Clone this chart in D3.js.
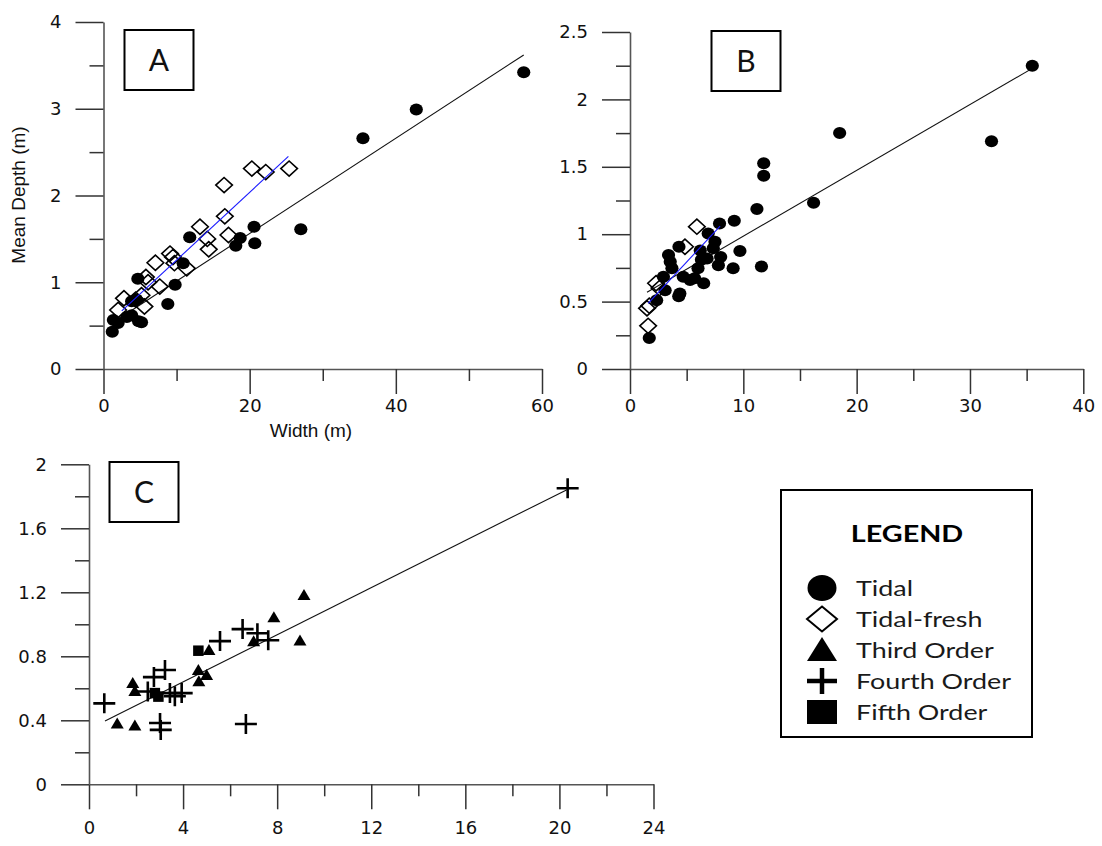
<!DOCTYPE html>
<html>
<head>
<meta charset="utf-8">
<script src="https://cdn.jsdelivr.net/npm/d3@7"></script>
<style>
  body { margin: 0; background: #fff; }
  svg { display: block; }
</style>
</head>
<body>
<script>
// panel A : width vs mean depth
const tidalA = [[1.2, 0.43], [1.35, 0.565], [2.0, 0.53], [3.2, 0.6], [3.85, 0.62], [3.85, 0.78], [4.5, 0.8], [4.8, 0.55],
  [5.2, 0.54], [4.7, 1.04], [8.8, 0.75], [9.8, 0.97], [10.9, 1.22], [11.8, 1.52], [18.1, 1.42], [18.7, 1.51],
  [20.6, 1.64], [20.7, 1.45], [27.0, 1.61], [35.5, 2.66], [42.8, 2.99], [57.5, 3.42]];
const freshA = [[2.0, 0.68], [2.8, 0.815], [4.4, 0.8], [5.2, 0.85], [5.6, 0.72], [5.8, 1.06], [6.1, 1.0], [7.1, 1.225],
  [7.7, 0.95], [9.1, 1.33], [9.5, 1.29], [9.7, 1.22], [11.4, 1.16], [13.2, 1.64], [14.2, 1.5], [14.4, 1.38],
  [16.5, 2.12], [16.6, 1.76], [17.1, 1.545], [20.3, 2.31], [22.2, 2.27], [25.4, 2.31]];
const fitA = [[1.2, 0.53], [57.5, 3.62]];
const fitFreshA = [[2.5, 0.67], [25.3, 2.45]];
const xMajorA = [0, 20, 40, 60];
const xMinorA = [10, 30, 50];
const yMajorA = [0, 1, 2, 3, 4];
const yMinorA = [0.5, 1.5, 2.5, 3.5];

// panel B
const tidalB = [[1.7, 0.23], [2.35, 0.51], [3.1, 0.585], [2.95, 0.685], [3.4, 0.845], [3.55, 0.796], [3.7, 0.747],
  [4.32, 0.907], [4.4, 0.56], [4.3, 0.54], [4.7, 0.685], [5.3, 0.66], [5.7, 0.673], [6.5, 0.636], [6.0, 0.747],
  [6.3, 0.81], [6.2, 0.88], [6.8, 0.82], [6.9, 1.006], [7.5, 0.944], [7.35, 0.895], [7.9, 1.08], [7.8, 0.77],
  [8.0, 0.83], [9.1, 0.747], [9.2, 1.1], [9.7, 0.875], [11.2, 1.187], [11.6, 0.76], [11.8, 1.526], [11.8, 1.434],
  [16.2, 1.234], [18.5, 1.75], [31.9, 1.69], [35.5, 2.25]];
const freshB = [[1.6, 0.32], [1.5, 0.45], [1.7, 0.47], [2.3, 0.636], [2.6, 0.6], [4.85, 0.907], [5.9, 1.056]];
const fitB = [[1.5, 0.57], [35.5, 2.23]];
const fitFreshB = [[1.6, 0.487], [7.95, 1.06]];
const xMajorB = [0, 10, 20, 30, 40];
const xMinorB = [5, 15, 25, 35];
const yMajorB = [0, 0.5, 1, 1.5, 2, 2.5];
const yMinorB = [0.25, 0.75, 1.25, 1.75, 2.25];

// panel C : stream orders
const thirdC = [[9.14, 1.18], [7.86, 1.04], [8.97, 0.895], [7.0, 0.89], [5.1, 0.835], [4.65, 0.71], [5.0, 0.68],
  [4.67, 0.64], [1.86, 0.63], [1.95, 0.58], [1.2, 0.377], [1.95, 0.364]];
const fourthC = [[20.35, 1.85], [5.57, 0.895], [6.53, 0.97], [7.16, 0.944], [7.62, 0.9], [0.65, 0.506], [3.23, 0.714],
  [2.76, 0.67], [2.5, 0.58], [3.44, 0.57], [3.65, 0.55], [3.94, 0.57], [3.02, 0.383], [3.05, 0.34], [6.67, 0.377]];
const fifthC = [[4.65, 0.835], [2.95, 0.548], [2.8, 0.57]];
const fitC = [[0.68, 0.395], [20.3, 1.84]];
const xMajorC = [0, 4, 8, 12, 16, 20, 24];
const xMinorC = [2, 6, 10, 14, 18, 22];
const yMajorC = [0, 0.4, 0.8, 1.2, 1.6, 2];
const yMinorC = [0.2, 0.6, 1.0, 1.4, 1.8];

const legendLabels = ['Tidal', 'Tidal-fresh', 'Third Order', 'Fourth Order', 'Fifth Order'];

const width = 1102;
const height = 846;
const tickFont = "'DejaVu Sans', sans-serif";
const boxFont = "Lato, 'Open Sans', sans-serif";

const svg = d3.select('body').append('svg').attr('width', width).attr('height', height);
svg.append('rect').attr('width', width).attr('height', height).attr('fill', '#fff');

function drawAxes(x, y, t) {
  const g = svg.append('g');
  const yPos = y.range()[0];
  const xPos = x.range()[0];

  g.append('g')
    .attr('transform', `translate(0,${yPos})`)
    .call(d3.axisBottom(x).tickValues(t.xMajor).tickSize(25).tickSizeOuter(0).tickPadding(t.xPad).tickFormat(d => String(d)));
  g.append('g')
    .attr('transform', `translate(0,${yPos})`)
    .call(d3.axisBottom(x).tickValues(t.xMinor).tickSize(12).tickFormat(''))
    .call(a => a.select('.domain').remove());

  g.append('g')
    .attr('transform', `translate(${xPos},0)`)
    .call(d3.axisLeft(y).tickValues(t.yMajor).tickSize(28).tickSizeOuter(0).tickPadding(14).tickFormat(d => String(d)));
  g.append('g')
    .attr('transform', `translate(${xPos},0)`)
    .call(d3.axisLeft(y).tickValues(t.yMinor).tickSize(14).tickFormat(''))
    .call(a => a.select('.domain').remove());

  g.selectAll('.domain').attr('stroke', '#555').attr('stroke-width', 1.6);
  g.selectAll('.tick line').attr('stroke', '#333').attr('stroke-width', 1.5);
  g.selectAll('.tick text').attr('font-family', tickFont).attr('font-size', 18).attr('fill', '#111');
  return g;
}

function fitLine(x, y, pts, color) {
  svg.append('path')
    .datum(pts)
    .attr('fill', 'none')
    .attr('stroke', color)
    .attr('stroke-width', 1.1)
    .attr('d', d3.line().x(d => x(d[0])).y(d => y(d[1])));
}

function labelBox(x0, y0, letter) {
  svg.append('rect').attr('x', x0).attr('y', y0).attr('width', 69).attr('height', 60)
    .attr('fill', '#fff').attr('stroke', '#000').attr('stroke-width', 2);
  svg.append('text').attr('x', x0 + 34.5).attr('y', y0 + 41).attr('text-anchor', 'middle')
    .attr('font-family', boxFont).attr('font-size', 30).attr('fill', '#111').text(letter);
}

function dots(x, y, pts) {
  svg.append('g').selectAll('ellipse').data(pts).join('ellipse')
    .attr('cx', d => x(d[0])).attr('cy', d => y(d[1]))
    .attr('rx', 6.6).attr('ry', 6).attr('fill', '#000');
}

function diamonds(x, y, pts, w, h, sw) {
  svg.append('g').selectAll('path').data(pts).join('path')
    .attr('transform', d => `translate(${x(d[0])},${y(d[1])})`)
    .attr('d', `M0,${-h}L${w},0L0,${h}L${-w},0Z`)
    .attr('fill', 'none').attr('stroke', '#000').attr('stroke-width', sw);
}

function triangles(x, y, pts, w, h) {
  svg.append('g').selectAll('path').data(pts).join('path')
    .attr('transform', d => `translate(${x(d[0])},${y(d[1])})`)
    .attr('d', `M0,${-h * 0.6}L${w / 2},${h * 0.4}L${-w / 2},${h * 0.4}Z`)
    .attr('fill', '#000');
}

function pluses(x, y, pts, w, h, sw) {
  svg.append('g').selectAll('path').data(pts).join('path')
    .attr('transform', d => `translate(${x(d[0])},${y(d[1])})`)
    .attr('d', `M${-w / 2},0H${w / 2}M0,${-h / 2}V${h / 2}`)
    .attr('stroke', '#000').attr('stroke-width', sw).attr('fill', 'none');
}

function squares(x, y, pts, s) {
  svg.append('g').selectAll('rect').data(pts).join('rect')
    .attr('x', d => x(d[0]) - s / 2).attr('y', d => y(d[1]) - s / 2)
    .attr('width', s).attr('height', s).attr('fill', '#000');
}

// ---- panel A
const xA = d3.scaleLinear().domain([0, 60]).range([103.5, 542]);
const yA = d3.scaleLinear().domain([0, 4]).range([369, 22]);
drawAxes(xA, yA, { xMajor: xMajorA, xMinor: xMinorA, yMajor: yMajorA, yMinor: yMinorA, xPad: 5 });
fitLine(xA, yA, fitA, '#111');
dots(xA, yA, tidalA);
diamonds(xA, yA, freshA, 8.3, 7.6, 1.6);
fitLine(xA, yA, fitFreshA, '#1a1aff');
labelBox(124.5, 30, 'A');

svg.append('text').attr('x', 311).attr('y', 437).attr('text-anchor', 'middle')
  .attr('font-family', "'Liberation Sans', Arial, sans-serif").attr('font-size', 19).attr('fill', '#111')
  .text('Width (m)');
svg.append('text').attr('transform', 'translate(25,195) rotate(-90)').attr('text-anchor', 'middle')
  .attr('font-family', "'Liberation Sans', Arial, sans-serif").attr('font-size', 19).attr('fill', '#111')
  .text('Mean Depth (m)');

// ---- panel B
const xB = d3.scaleLinear().domain([0, 40]).range([630, 1083.3]);
const yB = d3.scaleLinear().domain([0, 2.5]).range([369, 32]);
drawAxes(xB, yB, { xMajor: xMajorB, xMinor: xMinorB, yMajor: yMajorB, yMinor: yMinorB, xPad: 5 });
fitLine(xB, yB, fitB, '#111');
dots(xB, yB, tidalB);
diamonds(xB, yB, freshB, 8.3, 7.6, 1.6);
fitLine(xB, yB, fitFreshB, '#1a1aff');
labelBox(711.5, 31, 'B');

// ---- panel C
const xC = d3.scaleLinear().domain([0, 24]).range([89, 653.5]);
const yC = d3.scaleLinear().domain([0, 2]).range([784.3, 464.3]);
drawAxes(xC, yC, { xMajor: xMajorC, xMinor: xMinorC, yMajor: yMajorC, yMinor: yMinorC, xPad: 12 });
fitLine(xC, yC, fitC, '#111');
triangles(xC, yC, thirdC, 13, 11);
pluses(xC, yC, fourthC, 22, 20, 2.6);
squares(xC, yC, fifthC, 10.5);
labelBox(109.5, 462, 'C');

// ---- legend (the original is stretched sideways, so text is widened)
const legend = svg.append('g');
legend.append('rect').attr('x', 781).attr('y', 490).attr('width', 251).attr('height', 247)
  .attr('fill', '#fff').attr('stroke', '#000').attr('stroke-width', 2);
legend.append('text').attr('transform', 'translate(907,542) scale(1.25,1)').attr('text-anchor', 'middle')
  .attr('font-family', boxFont).attr('font-weight', 'bold').attr('font-size', 23).attr('fill', '#000')
  .text('LEGEND');

const rowY = d3.scalePoint().domain(legendLabels).range([588, 712]);
const mx = 822;
legend.append('ellipse').attr('cx', mx).attr('cy', rowY('Tidal')).attr('rx', 14.5).attr('ry', 13).attr('fill', '#000');
legend.append('path').attr('transform', `translate(${mx},${rowY('Tidal-fresh')})`)
  .attr('d', 'M0,-12.5L15,0L0,12.5L-15,0Z').attr('fill', 'none').attr('stroke', '#000').attr('stroke-width', 2);
legend.append('path').attr('transform', `translate(${mx},${rowY('Third Order')})`)
  .attr('d', 'M0,-13L15,11L-15,11Z').attr('fill', '#000');
legend.append('path').attr('transform', `translate(${mx},${rowY('Fourth Order')})`)
  .attr('d', 'M-15,0H15M0,-13V13').attr('stroke', '#000').attr('stroke-width', 4.5);
legend.append('rect').attr('x', mx - 15).attr('y', rowY('Fifth Order') - 12)
  .attr('width', 30).attr('height', 24).attr('fill', '#000');

legend.selectAll('text.item').data(legendLabels).join('text')
  .attr('class', 'item')
  .attr('transform', d => `translate(856,${rowY(d) + 7.5}) scale(1.28,1)`)
  .attr('font-family', boxFont).attr('font-size', 21).attr('fill', '#1a1a1a')
  .text(d => d);
</script>
</body>
</html>
